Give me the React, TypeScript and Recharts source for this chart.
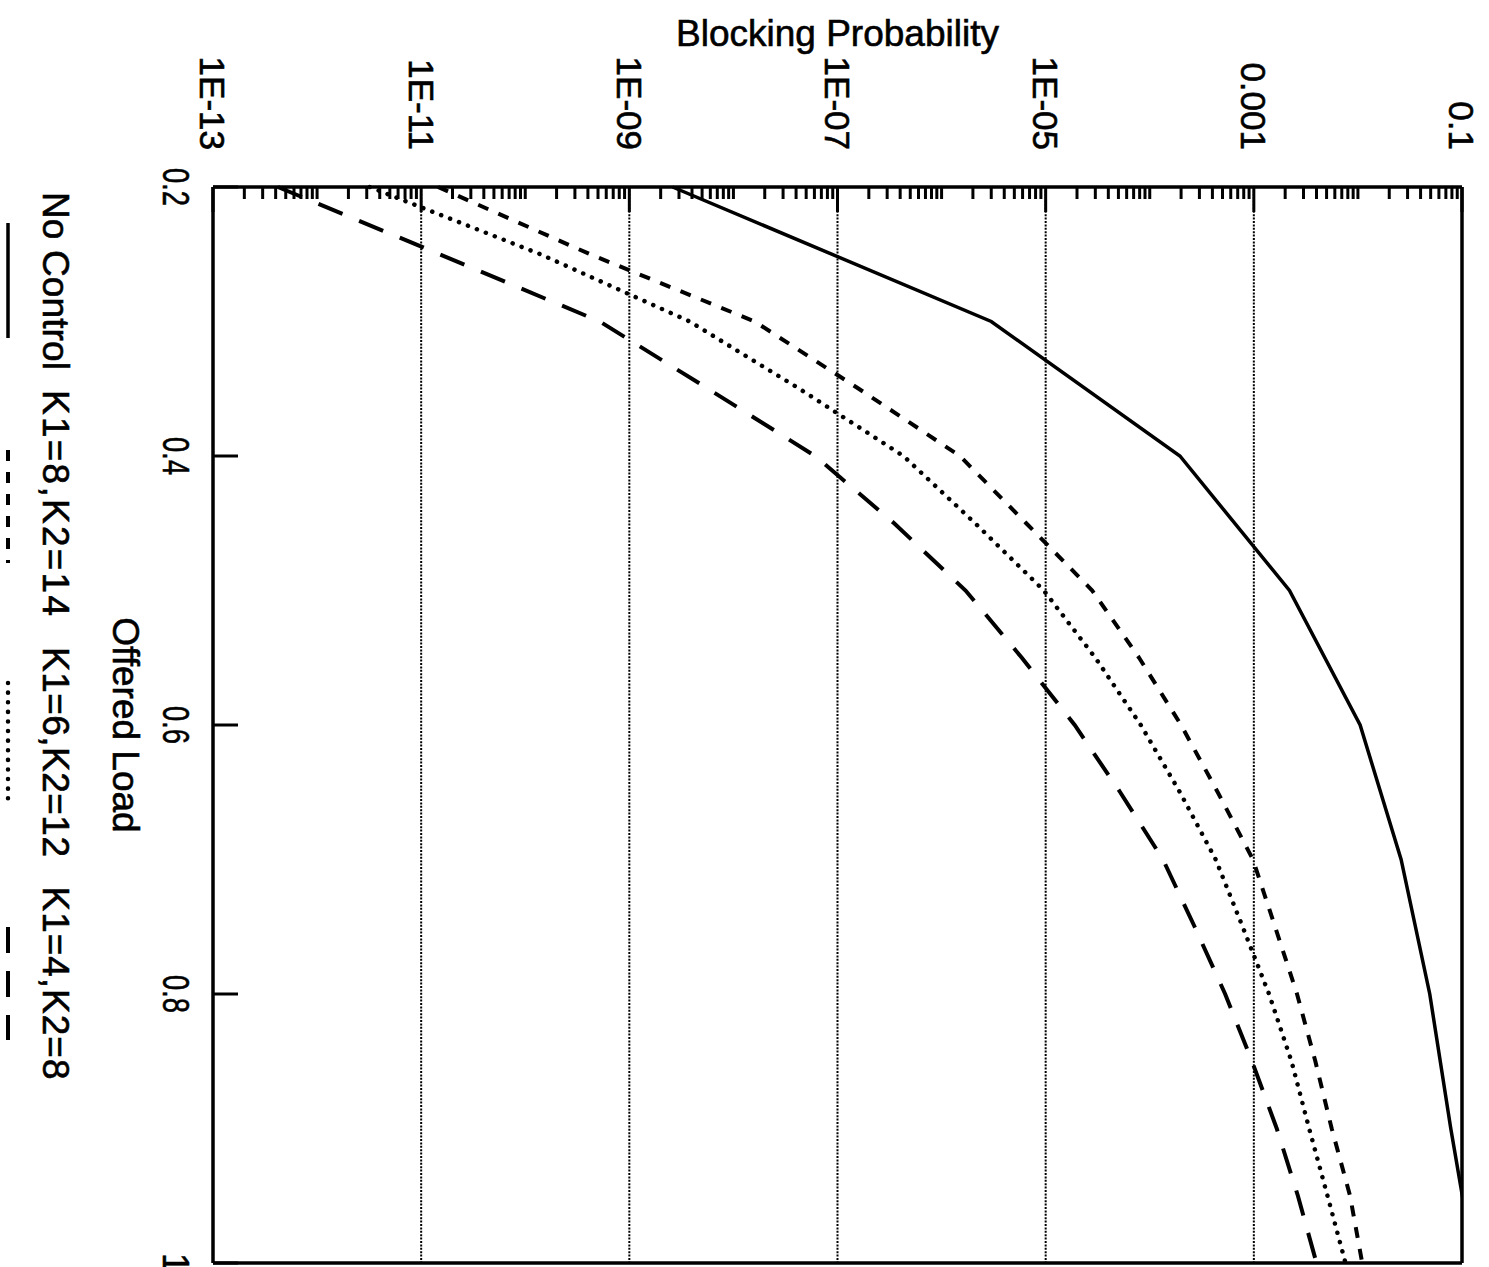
import { LineChart, Line, XAxis, YAxis, ReferenceLine } from "recharts";

// chart is laid out upright, then turned a quarter turn clockwise onto the page
const W = 1267;
const H = 1489;
const FONT = "'Liberation Sans', Arial, Helvetica, sans-serif";

const OFFERED_LOAD = [0.2, 0.25, 0.3, 0.35, 0.4, 0.45, 0.5, 0.55, 0.6, 0.65, 0.7, 0.75, 0.8, 0.85, 0.9, 0.95, 1.0];

const NO_CONTROL = [2.6e-9, null, 3.0e-6, null, 1.95e-4, null, 2.2e-3, null, 0.0105, null, 0.026, null, 0.049, null, 0.078, null, 0.13];
const K1_8_K2_14 = [1.45e-11, 4.2e-10, 1.6e-8, 1.6e-7, 1.5e-6, 6.5e-6, 2.8e-5, 7.9e-5, 2.0e-4, 4.5e-4, 9.8e-4, 1.6e-3, 2.6e-3, 3.9e-3, 5.6e-3, 8.4e-3, 0.011];
const K1_6_K2_12 = [3.2e-12, 1.4e-10, 3.8e-9, 4.3e-8, 4.3e-7, 2.1e-6, 9.6e-6, 3.0e-5, 8.2e-5, 1.95e-4, 4.3e-4, 7.8e-4, 1.4e-3, 2.3e-3, 3.4e-3, 5.1e-3, 7.6e-3];
const K1_4_K2_8 = [4.2e-13, 1.5e-11, 5.2e-10, 5.7e-9, 6.1e-8, 3.5e-7, 1.7e-6, 5.9e-6, 1.9e-5, 5.2e-5, 1.34e-4, 2.7e-4, 5.3e-4, 9.6e-4, 1.66e-3, 2.65e-3, 4.0e-3];

const X_TICKS = [0.2, 0.4, 0.6, 0.8, 1];
const X_TICK_LABELS = ["0.2", "0.4", "0.6", "0.8", "1"];

const Y_MAJOR = [1e-13, 1e-11, 1e-9, 1e-7, 1e-5, 1e-3, 0.1];
const Y_TICK_LABELS = ["1E-13", "1E-11", "1E-09", "1E-07", "1E-05", "0.001", "0.1"];
const GRID_VALUES = [1e-11, 1e-9, 1e-7, 1e-5, 1e-3];

const SERIES = [
  { key: "noControl", name: "No Control", values: NO_CONTROL, dash: undefined, width: 3.5, cap: "butt" },
  { key: "k8k14", name: "K1=8,K2=14", values: K1_8_K2_14, dash: "11 11", width: 4, cap: "butt" },
  { key: "k6k12", name: "K1=6,K2=12", values: K1_6_K2_12, dash: "0.1 9.5", width: 4.5, cap: "round" },
  { key: "k4k8", name: "K1=4,K2=8", values: K1_4_K2_8, dash: "26 18", width: 4, cap: "butt" },
] as const;

const data = OFFERED_LOAD.map((load, i) => {
  const row: Record<string, number | null> = { load };
  for (const s of SERIES) row[s.key] = s.values[i];
  return row;
});

// minor marks at 1..9 of every decade
const yTicks: number[] = [];
for (let e = -13; e <= -2; e++) {
  for (let m = 1; m <= 9; m++) yTicks.push(Number(`${m}e${e}`));
}
yTicks.push(0.1);

const majorIndex = (v: number) =>
  Y_MAJOR.findIndex((m) => Math.abs(Math.log10(m) - Math.log10(v)) < 1e-6);

const textStyle = { fontFamily: FONT, fill: "#000", stroke: "#000", strokeWidth: 0.6 };

function YTick(props: any) {
  const { x, y, payload } = props;
  const idx = majorIndex(payload.value);
  const len = idx >= 0 ? 25 : 12;
  return (
    <g>
      <line x1={x} y1={y} x2={x + len} y2={y} stroke="#000" strokeWidth={3} />
      {idx >= 0 && (
        <text x={x - 37} y={y} dy="0.36em" textAnchor="end" fontSize={35} {...textStyle}>
          {Y_TICK_LABELS[idx]}
        </text>
      )}
    </g>
  );
}

function XTick(props: any) {
  const { x, y, payload } = props;
  const idx = X_TICKS.indexOf(payload.value);
  const label = X_TICK_LABELS[idx];
  return (
    <g>
      <line x1={x} y1={y} x2={x} y2={y - 25} stroke="#000" strokeWidth={3} />
      <text
        x={x}
        y={y + 50}
        textAnchor="middle"
        fontSize={36}
        textLength={label.length > 1 ? 38 : undefined}
        lengthAdjust="spacingAndGlyphs"
        {...textStyle}
      >
        {label}
      </text>
    </g>
  );
}

// legend entries: label centre, label width and sample span along the bottom row
const LEGEND_POS = [
  { cx: 281, w: 178, x1: 223, x2: 338 },
  { cx: 503, w: 226, x1: 450, x2: 563 },
  { cx: 752, w: 210, x1: 683, x2: 803 },
  { cx: 983, w: 193, x1: 927, x2: 1040 },
];

function Overlay() {
  return (
    <svg width={W} height={H} style={{ position: "absolute", left: 0, top: 0, pointerEvents: "none" }}>
      <text
        x={46}
        y={651.5}
        transform="rotate(-90 46 651.5)"
        textAnchor="middle"
        fontSize={37}
        {...textStyle}
      >
        Blocking Probability
      </text>
      <text x={725} y={1376} textAnchor="middle" fontSize={37} {...textStyle}>
        Offered Load
      </text>
      {SERIES.map((s, i) => (
        <g key={s.key}>
          <text
            x={LEGEND_POS[i].cx}
            y={1446}
            textAnchor="middle"
            fontSize={37}
            textLength={LEGEND_POS[i].w}
            lengthAdjust="spacing"
            {...textStyle}
          >
            {s.name}
          </text>
          <line
            x1={LEGEND_POS[i].x1}
            x2={LEGEND_POS[i].x2}
            y1={1481}
            y2={1481}
            stroke="#000"
            strokeWidth={s.width}
            strokeDasharray={s.dash}
            strokeLinecap={s.cap}
          />
        </g>
      ))}
    </svg>
  );
}

export default function App() {
  return (
    <div style={{ position: "absolute", left: 0, top: 0, width: H, height: W, overflow: "hidden", background: "#fff" }}>
      <div
        style={{
          position: "absolute",
          left: 0,
          top: 0,
          width: W,
          height: H,
          transformOrigin: "0 0",
          transform: `translateX(${H}px) rotate(90deg)`,
        }}
      >
        <LineChart width={W} height={H} data={data} margin={{ top: 27, right: 4, left: 0, bottom: 0 }}>
          <XAxis
            dataKey="load"
            type="number"
            domain={[0.2, 1]}
            ticks={X_TICKS}
            interval={0}
            height={213}
            tickSize={0}
            tickMargin={0}
            tickLine={false}
            tick={<XTick />}
            axisLine={{ stroke: "#000", strokeWidth: 3.5 }}
          />
          <YAxis
            type="number"
            scale="log"
            domain={[1e-13, 0.1]}
            allowDataOverflow
            ticks={yTicks}
            interval={0}
            width={187}
            tickSize={0}
            tickMargin={0}
            tickLine={false}
            tick={<YTick />}
            axisLine={{ stroke: "#000", strokeWidth: 3.5 }}
          />
          {GRID_VALUES.map((v) => (
            <ReferenceLine key={v} y={v} stroke="#000" strokeWidth={2} strokeDasharray="2 1.4" />
          ))}
          <ReferenceLine y={0.1} stroke="#000" strokeWidth={3.5} />
          <ReferenceLine x={1} stroke="#000" strokeWidth={3.5} />
          {SERIES.map((s) => (
            <Line
              key={s.key}
              dataKey={s.key}
              name={s.name}
              type="linear"
              stroke="#000"
              strokeWidth={s.width}
              strokeDasharray={s.dash}
              strokeLinecap={s.cap}
              dot={false}
              activeDot={false}
              connectNulls
              isAnimationActive={false}
            />
          ))}
        </LineChart>
        <Overlay />
      </div>
    </div>
  );
}
